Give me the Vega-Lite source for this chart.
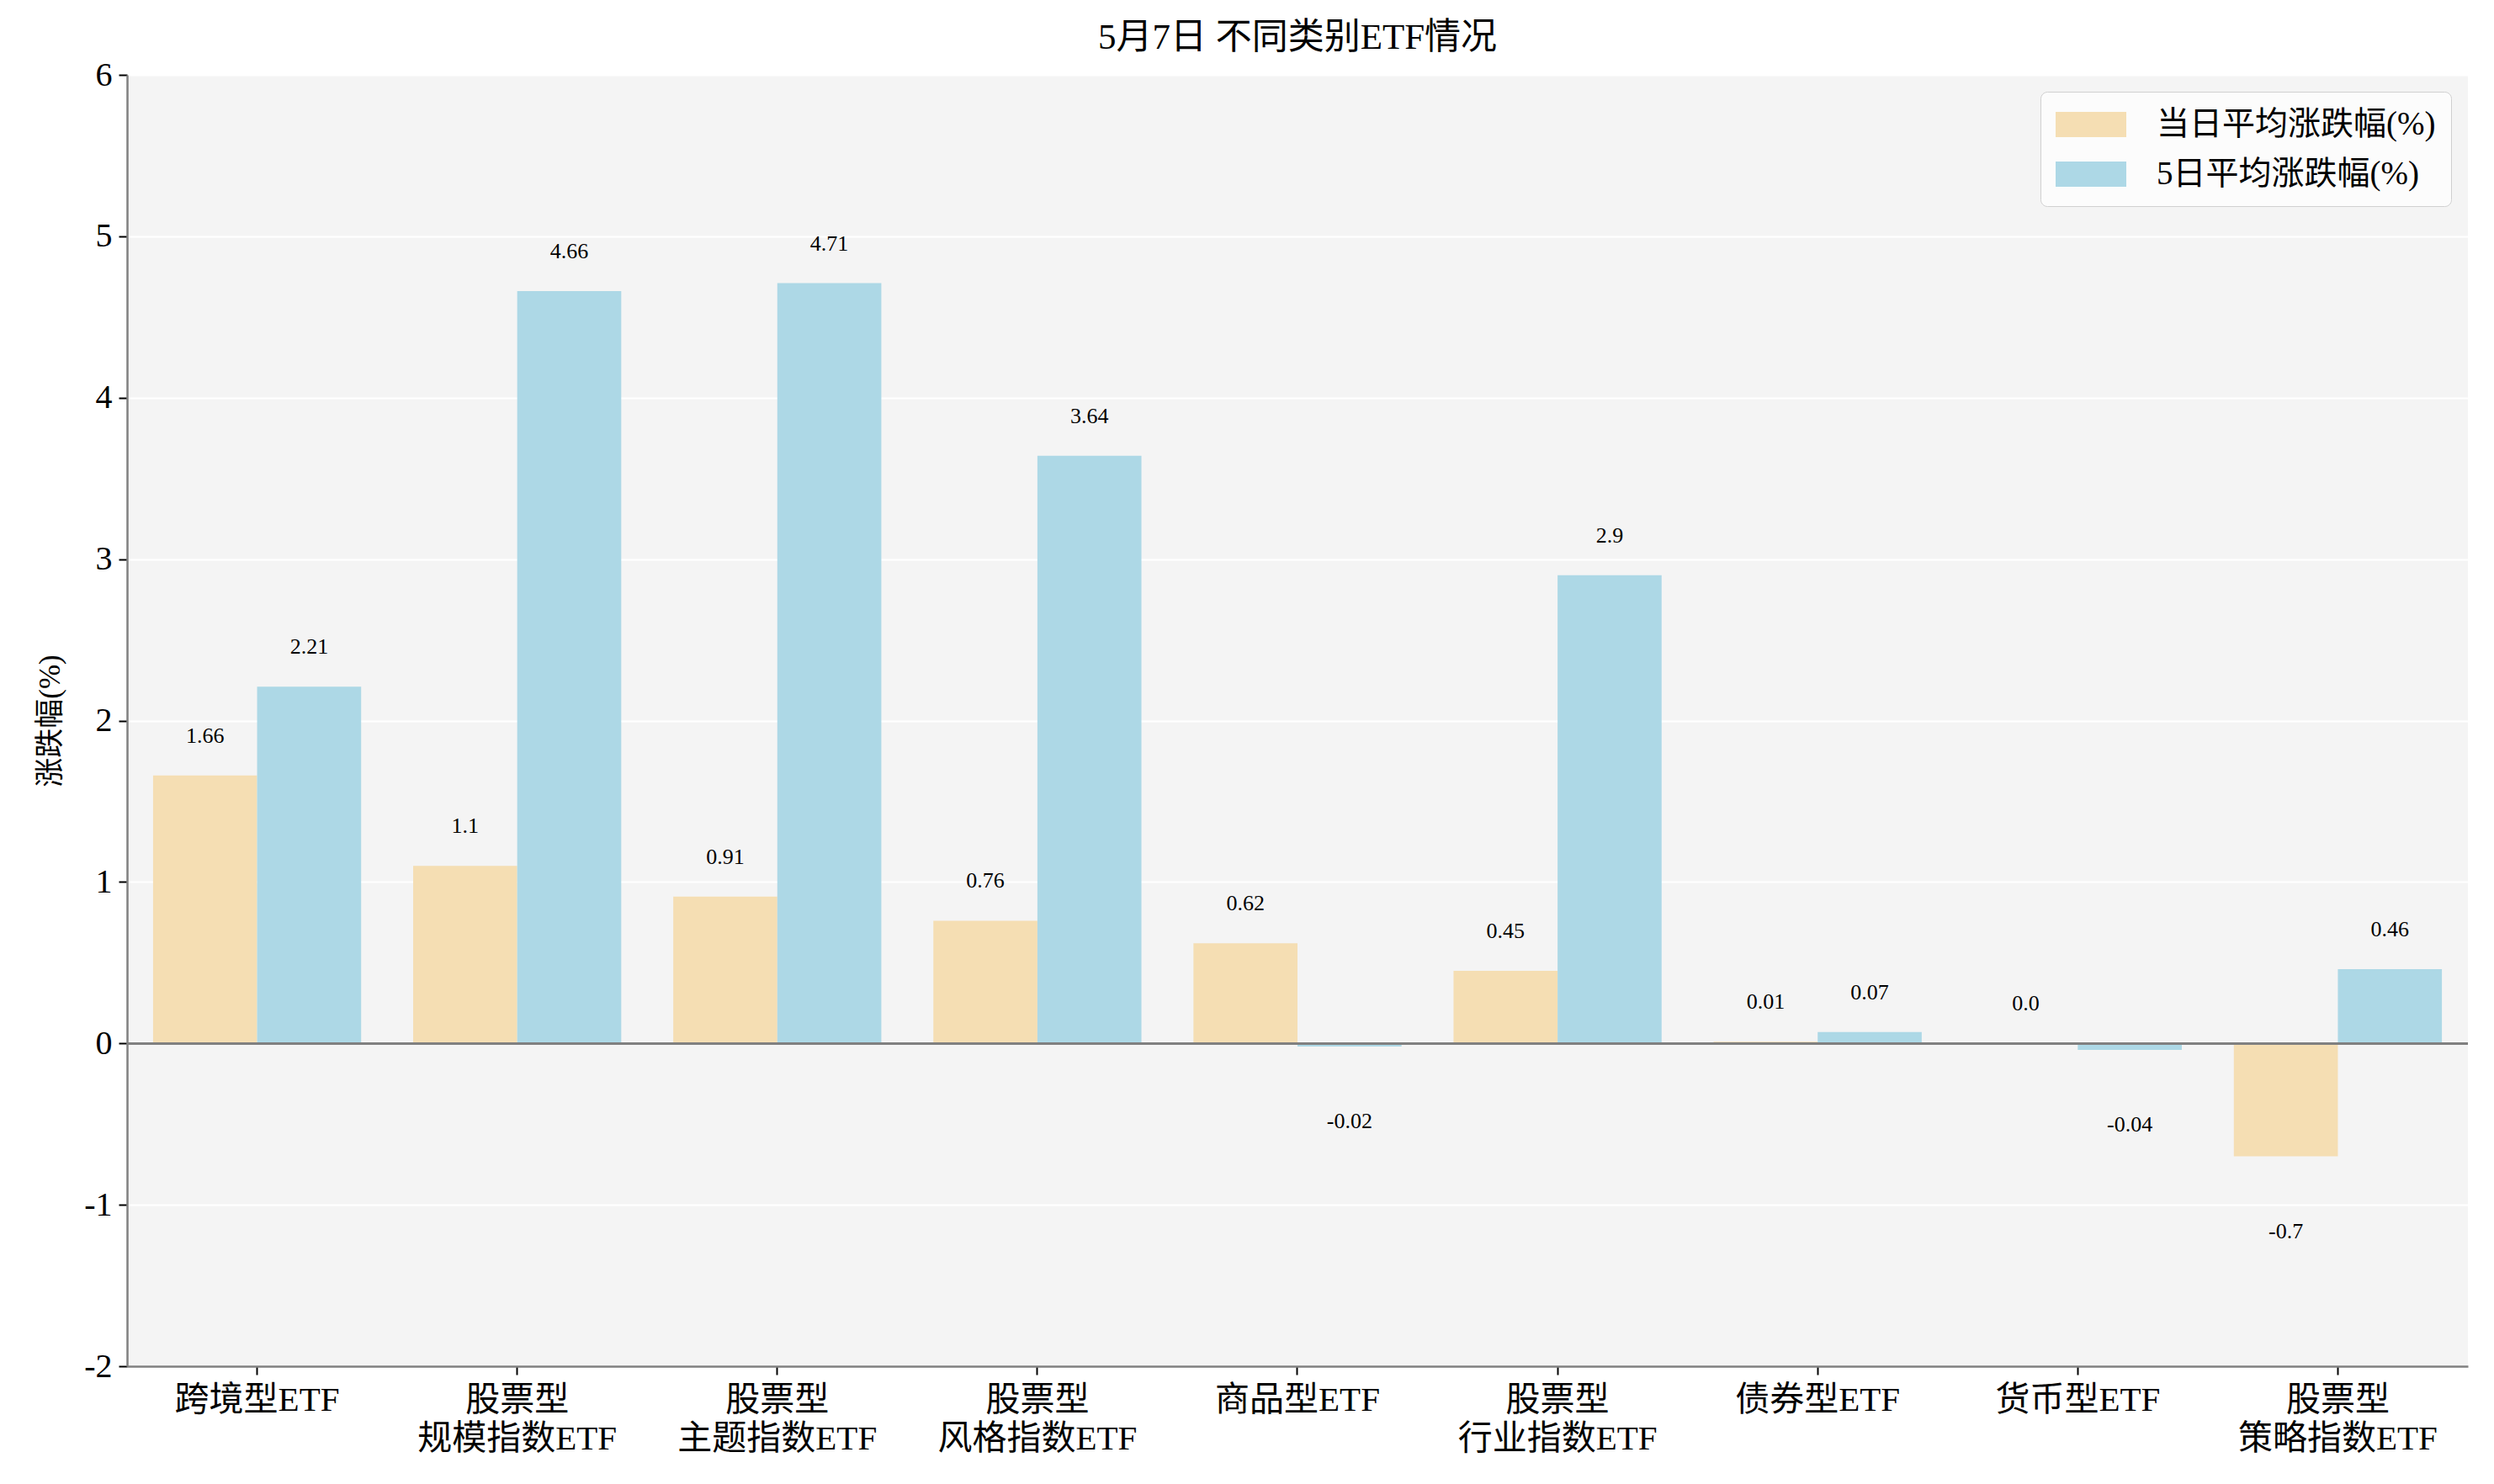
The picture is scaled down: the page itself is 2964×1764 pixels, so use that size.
{
  "$schema": "https://vega.github.io/schema/vega-lite/v6.json",
  "autosize": {"type": "none"},
  "width": 2782,
  "height": 1535,
  "padding": {"left": 151, "top": 89, "right": 31, "bottom": 140},
  "background": "white",
  "title": {
    "text": "5月7日 不同类别ETF情况",
    "anchor": "middle",
    "fontSize": 43,
    "fontWeight": "normal",
    "font": "Liberation Serif, Noto Sans CJK SC",
    "color": "black",
    "offset": 2
  },
  "config": {
    "font": "Liberation Serif, Noto Sans CJK SC",
    "view": {"fill": "#f4f4f4", "stroke": null},
    "axis": {
      "domainColor": "#808080",
      "domainWidth": 2.5,
      "tickColor": "black",
      "tickWidth": 2,
      "tickSize": 10,
      "labelColor": "black",
      "labelFont": "Liberation Serif, Noto Sans CJK SC",
      "titleFont": "Liberation Serif, Noto Sans CJK SC",
      "titleFontWeight": "normal",
      "titleColor": "black"
    },
    "legend": {
      "labelFont": "Liberation Serif, Noto Sans CJK SC"
    }
  },
  "data": {
    "values": [
      {"category": "跨境型ETF", "series": "当日平均涨跌幅(%)", "value": 1.66, "label": "1.66"},
      {"category": "跨境型ETF", "series": "5日平均涨跌幅(%)", "value": 2.21, "label": "2.21"},
      {"category": "股票型 规模指数ETF", "series": "当日平均涨跌幅(%)", "value": 1.1, "label": "1.1"},
      {"category": "股票型 规模指数ETF", "series": "5日平均涨跌幅(%)", "value": 4.66, "label": "4.66"},
      {"category": "股票型 主题指数ETF", "series": "当日平均涨跌幅(%)", "value": 0.91, "label": "0.91"},
      {"category": "股票型 主题指数ETF", "series": "5日平均涨跌幅(%)", "value": 4.71, "label": "4.71"},
      {"category": "股票型 风格指数ETF", "series": "当日平均涨跌幅(%)", "value": 0.76, "label": "0.76"},
      {"category": "股票型 风格指数ETF", "series": "5日平均涨跌幅(%)", "value": 3.64, "label": "3.64"},
      {"category": "商品型ETF", "series": "当日平均涨跌幅(%)", "value": 0.62, "label": "0.62"},
      {"category": "商品型ETF", "series": "5日平均涨跌幅(%)", "value": -0.02, "label": "-0.02"},
      {"category": "股票型 行业指数ETF", "series": "当日平均涨跌幅(%)", "value": 0.45, "label": "0.45"},
      {"category": "股票型 行业指数ETF", "series": "5日平均涨跌幅(%)", "value": 2.9, "label": "2.9"},
      {"category": "债券型ETF", "series": "当日平均涨跌幅(%)", "value": 0.01, "label": "0.01"},
      {"category": "债券型ETF", "series": "5日平均涨跌幅(%)", "value": 0.07, "label": "0.07"},
      {"category": "货币型ETF", "series": "当日平均涨跌幅(%)", "value": 0.0, "label": "0.0"},
      {"category": "货币型ETF", "series": "5日平均涨跌幅(%)", "value": -0.04, "label": "-0.04"},
      {"category": "股票型 策略指数ETF", "series": "当日平均涨跌幅(%)", "value": -0.7, "label": "-0.7"},
      {"category": "股票型 策略指数ETF", "series": "5日平均涨跌幅(%)", "value": 0.46, "label": "0.46"}
    ]
  },
  "encoding": {
    "x": {
      "field": "category",
      "type": "nominal",
      "sort": null,
      "scale": {"paddingInner": 0.2, "paddingOuter": 0.1},
      "axis": {
        "title": null,
        "labelAngle": 0,
        "labelFontSize": 41,
        "labelLineHeight": 46,
        "labelPadding": 10,
        "labelLimit": 0,
        "labelBaseline": "top",
        "labelExpr": "split(datum.label, ' ')",
        "grid": false
      }
    },
    "xOffset": {
      "field": "series",
      "type": "nominal",
      "sort": ["当日平均涨跌幅(%)", "5日平均涨跌幅(%)"],
      "scale": {"paddingInner": 0, "paddingOuter": 0}
    },
    "y": {
      "field": "value",
      "type": "quantitative",
      "scale": {"domain": [-2, 6], "nice": false, "zero": false},
      "axis": {
        "title": "涨跌幅(%)",
        "titleFontSize": 35,
        "titlePadding": 22,
        "values": [-2, -1, 0, 1, 2, 3, 4, 5, 6],
        "labelExpr": "datum.value + ''",
        "labelFontSize": 40,
        "labelPadding": 8,
        "grid": true,
        "gridColor": "white",
        "gridWidth": 2
      }
    }
  },
  "layer": [
    {
      "mark": {"type": "bar"},
      "encoding": {
        "color": {
          "field": "series",
          "type": "nominal",
          "sort": ["当日平均涨跌幅(%)", "5日平均涨跌幅(%)"],
          "scale": {
            "domain": ["当日平均涨跌幅(%)", "5日平均涨跌幅(%)"],
            "range": ["#F5DEB3", "#ADD8E6"]
          },
          "legend": {
            "title": null,
            "orient": "top-right",
            "offset": 20,
            "labelFontSize": 39,
            "labelLimit": 0,
            "labelOffset": 78,
            "symbolType": "M-1,-0.714H3V0.714H-1Z",
            "symbolSize": 1764,
            "symbolStrokeWidth": 0,
            "symbolOpacity": 1,
            "rowPadding": 18,
            "padding": 18,
            "fillColor": "#fcfcfc",
            "strokeColor": "#d0d0d0",
            "cornerRadius": 8,
            "labelColor": "black"
          }
        }
      }
    },
    {
      "mark": {"type": "rule", "color": "#808080", "strokeWidth": 2},
      "encoding": {
        "y": {"datum": 0},
        "x": null,
        "xOffset": null
      }
    },
    {
      "transform": [{"filter": "datum.value >= 0"}],
      "mark": {"type": "text", "fontSize": 26, "baseline": "middle", "dy": -47, "color": "black"},
      "encoding": {"text": {"field": "label"}}
    },
    {
      "transform": [{"filter": "datum.value < 0"}],
      "mark": {"type": "text", "fontSize": 26, "baseline": "middle", "dy": 89, "color": "black"},
      "encoding": {"text": {"field": "label"}}
    }
  ]
}
